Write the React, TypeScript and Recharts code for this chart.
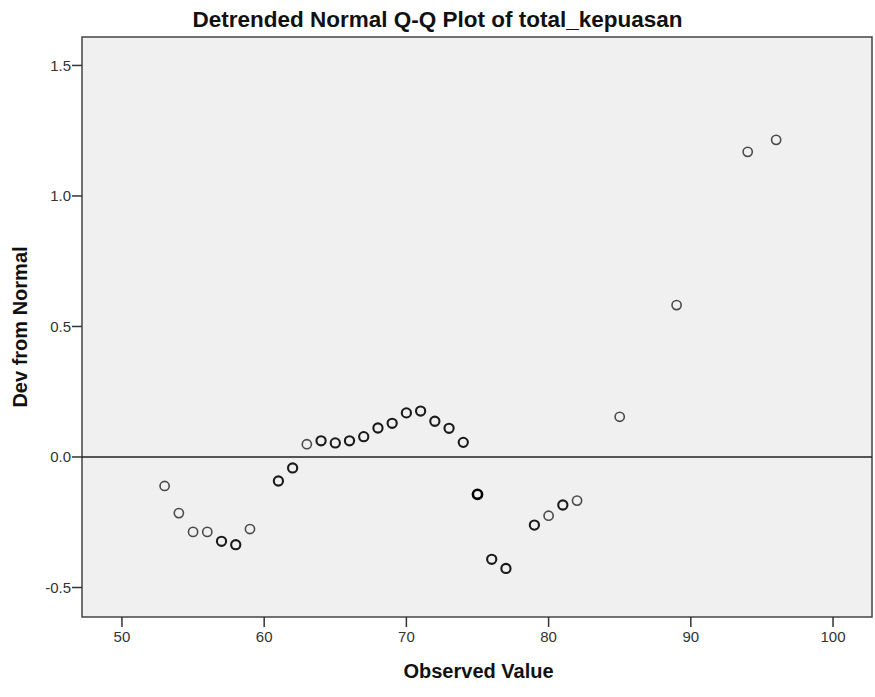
import {
  ScatterChart,
  Scatter,
  XAxis,
  YAxis,
  CartesianGrid,
  ReferenceLine,
  ReferenceArea,
} from "recharts";

const observed = [
  53, 54, 55, 56, 57, 58, 59, 61, 62, 63, 64, 65, 66, 67, 68, 69,
  70, 71, 72, 73, 74, 75, 76, 77, 79, 80, 81, 82, 85, 89, 94, 96,
];
const devFromNormal = [
  -0.111, -0.215, -0.287, -0.287, -0.323, -0.336, -0.276, -0.092, -0.042, 0.049,
  0.062, 0.054, 0.062, 0.078, 0.111, 0.129, 0.169, 0.176, 0.137, 0.11, 0.056,
  -0.143, -0.392, -0.427, -0.261, -0.225, -0.184, -0.167, 0.154, 0.582, 1.169, 1.215,
];
// how dark each marker looks (overlapping cases draw darker)
const ties = [
  1, 1, 1, 1, 2, 2, 1, 2, 2, 1, 2, 2, 2, 2, 2, 2,
  2, 2, 2, 2, 2, 3, 2, 2, 2, 1, 2, 1, 1, 1, 1, 1,
];

const xTicks = [50, 60, 70, 80, 90, 100];
const yTicks = [-0.5, 0, 0.5, 1.0, 1.5];
const xDomain: [number, number] = [47.19, 102.74];
const yDomain: [number, number] = [-0.613, 1.609];

const data = observed.map((x, i) => ({ x, y: devFromNormal[i], n: ties[i] }));

const FONT = '"Liberation Sans", Arial, sans-serif';

function Ring(props: any) {
  const { cx, cy, payload } = props;
  const n = payload?.n ?? 1;
  const stroke = n >= 3 ? "#000" : n === 2 ? "#1a1a1a" : "#4a4a4a";
  const sw = n >= 3 ? 2.6 : n === 2 ? 2.1 : 1.6;
  return <circle cx={cx} cy={cy} r={4.6} fill="none" stroke={stroke} strokeWidth={sw} />;
}

export default function App() {
  return (
    <div style={{ position: "relative", width: 875, height: 697, fontFamily: FONT, background: "#fff" }}>
      <style>{`body{margin:0}`}</style>
      <div
        style={{
          position: "absolute",
          left: 0,
          width: 875,
          top: 6,
          height: 28,
          lineHeight: "28px",
          textAlign: "center",
          fontWeight: "bold",
          fontSize: 22.5,
          color: "#111",
        }}
      >
        Detrended Normal Q-Q Plot of total_kepuasan
      </div>
      <ScatterChart width={875} height={697} margin={{ top: 37, right: 3, bottom: 40, left: 0 }}>
        <CartesianGrid horizontal={false} vertical={false} fill="#F0F0F0" />
        <XAxis
          type="number"
          dataKey="x"
          domain={xDomain}
          ticks={xTicks}
          allowDataOverflow
          height={40}
          axisLine={false}
          tickSize={10}
          tickMargin={4}
          tickLine={{ stroke: "#333", strokeWidth: 1.5 }}
          tick={{ fontSize: 15, fill: "#333", fontFamily: FONT }}
        />
        <YAxis
          type="number"
          dataKey="y"
          domain={yDomain}
          ticks={yTicks}
          allowDataOverflow
          width={82}
          axisLine={false}
          tickSize={10}
          tickMargin={1}
          tickLine={{ stroke: "#333", strokeWidth: 1.5 }}
          tickFormatter={(v: number) => v.toFixed(1)}
          tick={{ fontSize: 15, fill: "#333", fontFamily: FONT }}
        />
        <ReferenceArea
          x1={xDomain[0]}
          x2={xDomain[1]}
          y1={yDomain[0]}
          y2={yDomain[1]}
          fill="none"
          stroke="#444"
          strokeWidth={1.5}
          ifOverflow="visible"
        />
        <ReferenceLine y={0} stroke="#222" strokeWidth={1.6} />
        <Scatter data={data} shape={<Ring />} isAnimationActive={false} />
      </ScatterChart>
      <div
        style={{
          position: "absolute",
          left: 0,
          width: 875,
          top: 658,
          height: 26,
          lineHeight: "26px",
          textAlign: "center",
          fontWeight: "bold",
          fontSize: 20,
          color: "#111",
          paddingLeft: 82,
          boxSizing: "border-box",
        }}
      >
        Observed Value
      </div>
      <div
        style={{
          position: "absolute",
          left: 20,
          top: 327,
          transform: "translate(-50%, -50%) rotate(-90deg)",
          whiteSpace: "nowrap",
          fontWeight: "bold",
          fontSize: 20,
          color: "#111",
          lineHeight: "24px",
        }}
      >
        Dev from Normal
      </div>
    </div>
  );
}
